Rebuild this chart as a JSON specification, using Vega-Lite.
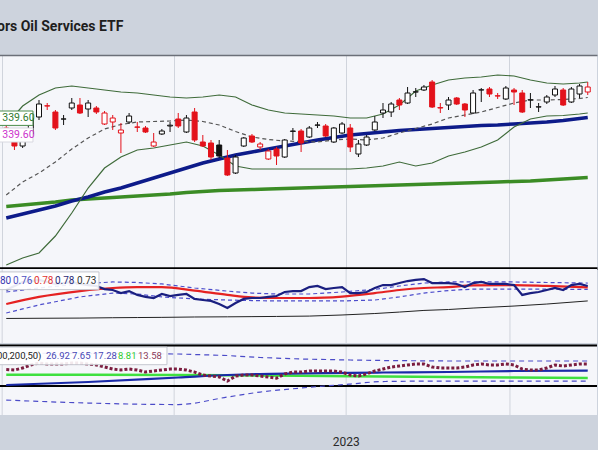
{
  "$schema": "https://vega.github.io/schema/vega-lite/v6.json",
  "background": "#cdd3dd",
  "padding": {"left": -6, "top": 20, "right": 0, "bottom": 2},
  "title": {"text": "ors Oil Services ETF", "anchor": "start", "frame": "group", "font": "Roboto", "fontSize": 14, "fontWeight": "bold", "color": "#1e1e1e", "offset": 21},
  "config": {
    "view": {"stroke": null, "fill": "#f5f6fa"},
    "axis": {"labelFont": "Roboto"},
    "text": {"font": "Roboto"}
  },
  "spacing": 0,
  "datasets": {
    "months": [{"d":"2022-11-01"},{"d":"2022-12-01"},{"d":"2023-01-03"},{"d":"2023-02-01"}],
    "ohlc": [
      {"d":"2022-11-01","o":336,"h":337.5,"l":329,"c":330,"dir":"down"},
      {"d":"2022-11-02","o":333.5,"h":335,"l":325,"c":327,"dir":"down"},
      {"d":"2022-11-03","o":327,"h":334,"l":326,"c":332.5,"dir":"up"},
      {"d":"2022-11-04","o":333,"h":342,"l":332,"c":341,"dir":"up"},
      {"d":"2022-11-07","o":341.5,"h":350,"l":340,"c":348,"dir":"up"},
      {"d":"2022-11-08","o":347.1,"h":348.5,"l":345,"c":347,"dir":"down"},
      {"d":"2022-11-09","o":344,"h":345,"l":335,"c":336,"dir":"down"},
      {"d":"2022-11-10","o":340.5,"h":342.5,"l":337.5,"c":340.5,"dir":"up"},
      {"d":"2022-11-11","o":346,"h":351,"l":345,"c":348.5,"dir":"up"},
      {"d":"2022-11-14","o":347.5,"h":351,"l":343,"c":343.5,"dir":"down"},
      {"d":"2022-11-15","o":345.5,"h":350,"l":341.5,"c":348.5,"dir":"up"},
      {"d":"2022-11-16","o":346,"h":347,"l":343,"c":344,"dir":"down"},
      {"d":"2022-11-17","o":338,"h":344.5,"l":337.5,"c":343.5,"dir":"down"},
      {"d":"2022-11-18","o":339,"h":342.5,"l":335,"c":341,"dir":"down"},
      {"d":"2022-11-21","o":333.5,"h":338.5,"l":323.5,"c":335,"dir":"down"},
      {"d":"2022-11-22","o":339,"h":343.5,"l":338,"c":342,"dir":"up"},
      {"d":"2022-11-23","o":336.5,"h":339,"l":334,"c":336.4,"dir":"down"},
      {"d":"2022-11-25","o":336,"h":337,"l":333.5,"c":334,"dir":"down"},
      {"d":"2022-11-28","o":327,"h":333.5,"l":326.5,"c":329,"dir":"down"},
      {"d":"2022-11-29","o":333,"h":335.5,"l":332.5,"c":334.5,"dir":"up"},
      {"d":"2022-11-30","o":337,"h":339,"l":334,"c":337.4,"dir":"up"},
      {"d":"2022-12-01","o":340.5,"h":343.5,"l":336,"c":337,"dir":"down"},
      {"d":"2022-12-02","o":334,"h":342.5,"l":333.5,"c":341,"dir":"up"},
      {"d":"2022-12-05","o":344,"h":346,"l":329,"c":330,"dir":"down"},
      {"d":"2022-12-06","o":329,"h":332.5,"l":326.5,"c":327,"dir":"down"},
      {"d":"2022-12-07","o":328.5,"h":330,"l":320,"c":321.5,"dir":"down"},
      {"d":"2022-12-08","o":327.5,"h":330,"l":321,"c":322,"dir":"up"},
      {"d":"2022-12-09","o":321,"h":325,"l":312,"c":312.5,"dir":"down"},
      {"d":"2022-12-12","o":313.5,"h":322.5,"l":313,"c":321.5,"dir":"up"},
      {"d":"2022-12-13","o":327,"h":331.5,"l":326.5,"c":331,"dir":"up"},
      {"d":"2022-12-14","o":332,"h":333,"l":328.5,"c":329,"dir":"down"},
      {"d":"2022-12-15","o":326.5,"h":329,"l":325,"c":328,"dir":"down"},
      {"d":"2022-12-16","o":320.5,"h":325.5,"l":320,"c":324.5,"dir":"down"},
      {"d":"2022-12-19","o":325.5,"h":326.5,"l":317.5,"c":322,"dir":"down"},
      {"d":"2022-12-20","o":321.5,"h":330.5,"l":321,"c":330,"dir":"up"},
      {"d":"2022-12-21","o":334.3,"h":336,"l":330,"c":334.5,"dir":"up"},
      {"d":"2022-12-22","o":334.5,"h":335.5,"l":324,"c":328.5,"dir":"down"},
      {"d":"2022-12-23","o":331.5,"h":337,"l":331,"c":336,"dir":"up"},
      {"d":"2022-12-27","o":337.4,"h":339,"l":336,"c":337.5,"dir":"up"},
      {"d":"2022-12-28","o":337,"h":338,"l":331.5,"c":332,"dir":"down"},
      {"d":"2022-12-29","o":329,"h":336.5,"l":328.5,"c":336,"dir":"up"},
      {"d":"2022-12-30","o":333.5,"h":339,"l":333,"c":338,"dir":"up"},
      {"d":"2023-01-03","o":336,"h":338,"l":324,"c":326.5,"dir":"down"},
      {"d":"2023-01-04","o":323,"h":330,"l":321.5,"c":328,"dir":"up"},
      {"d":"2023-01-05","o":327.5,"h":332.5,"l":327,"c":331.5,"dir":"up"},
      {"d":"2023-01-06","o":335,"h":342,"l":334.5,"c":339,"dir":"up"},
      {"d":"2023-01-09","o":343.5,"h":348.5,"l":341,"c":345,"dir":"up"},
      {"d":"2023-01-10","o":344,"h":349,"l":341.5,"c":348,"dir":"up"},
      {"d":"2023-01-11","o":350,"h":351,"l":345,"c":347.5,"dir":"down"},
      {"d":"2023-01-12","o":348.5,"h":356.5,"l":348,"c":353.5,"dir":"up"},
      {"d":"2023-01-13","o":354,"h":356,"l":351.5,"c":354.1,"dir":"up"},
      {"d":"2023-01-17","o":355,"h":357.5,"l":354.5,"c":356.5,"dir":"up"},
      {"d":"2023-01-18","o":359,"h":360,"l":346,"c":346.5,"dir":"down"},
      {"d":"2023-01-19","o":346.2,"h":348.5,"l":343.5,"c":346,"dir":"down"},
      {"d":"2023-01-20","o":347.5,"h":351.5,"l":345,"c":350,"dir":"up"},
      {"d":"2023-01-23","o":351,"h":351.5,"l":347.5,"c":348,"dir":"down"},
      {"d":"2023-01-24","o":348,"h":348.5,"l":341.5,"c":345,"dir":"down"},
      {"d":"2023-01-25","o":343.5,"h":355,"l":343,"c":353.5,"dir":"up"},
      {"d":"2023-01-26","o":355,"h":356,"l":349,"c":355.1,"dir":"up"},
      {"d":"2023-01-27","o":355.5,"h":356.5,"l":351.5,"c":353,"dir":"down"},
      {"d":"2023-01-30","o":352.1,"h":353.5,"l":350.5,"c":352,"dir":"down"},
      {"d":"2023-01-31","o":350.5,"h":357,"l":350,"c":356,"dir":"up"},
      {"d":"2023-02-01","o":355,"h":356,"l":347.5,"c":354,"dir":"down"},
      {"d":"2023-02-02","o":353.5,"h":355,"l":343.5,"c":344,"dir":"down"},
      {"d":"2023-02-03","o":350,"h":353.5,"l":346,"c":350.1,"dir":"up"},
      {"d":"2023-02-06","o":346.5,"h":348.5,"l":344,"c":346.6,"dir":"up"},
      {"d":"2023-02-07","o":349,"h":352.5,"l":348,"c":351.5,"dir":"up"},
      {"d":"2023-02-08","o":352.5,"h":357,"l":351.5,"c":355.5,"dir":"up"},
      {"d":"2023-02-09","o":355,"h":356,"l":347,"c":347.5,"dir":"down"},
      {"d":"2023-02-10","o":349,"h":356.5,"l":348.5,"c":355.5,"dir":"up"},
      {"d":"2023-02-13","o":353,"h":358,"l":351,"c":357,"dir":"up"},
      {"d":"2023-02-14","o":354,"h":359,"l":352.5,"c":356.5,"dir":"down"}
    ],
    "ma": [
      {"d":"2022-11-01","u":337.5,"mid":302.5,"lo":267.5,"s50":291,"s200":296.75},
      {"d":"2022-11-03","u":347,"mid":309,"lo":271,"s50":293,"s200":297.5},
      {"d":"2022-11-07","u":352.5,"mid":313.5,"lo":273.5,"s50":295,"s200":298.25},
      {"d":"2022-11-09","u":356,"mid":319,"lo":282,"s50":297,"s200":299},
      {"d":"2022-11-11","u":357,"mid":325.5,"lo":293.5,"s50":299.5,"s200":300},
      {"d":"2022-11-15","u":356,"mid":331,"lo":306,"s50":301.5,"s200":300.5},
      {"d":"2022-11-17","u":355,"mid":335.5,"lo":316,"s50":304,"s200":301},
      {"d":"2022-11-21","u":354,"mid":337.75,"lo":321.5,"s50":306,"s200":301.5},
      {"d":"2022-11-23","u":353.5,"mid":339,"lo":325,"s50":308.5,"s200":302},
      {"d":"2022-11-28","u":352.5,"mid":339.25,"lo":326,"s50":311,"s200":302.5},
      {"d":"2022-11-30","u":351.5,"mid":339.5,"lo":327.5,"s50":313.5,"s200":303},
      {"d":"2022-12-02","u":351,"mid":340,"lo":329,"s50":316,"s200":303.75},
      {"d":"2022-12-06","u":351.5,"mid":339.25,"lo":327,"s50":318.5,"s200":304.25},
      {"d":"2022-12-08","u":352.5,"mid":337.5,"lo":322.5,"s50":320.5,"s200":304.75},
      {"d":"2022-12-12","u":351.5,"mid":334.25,"lo":317,"s50":322.5,"s200":305},
      {"d":"2022-12-14","u":347.5,"mid":331.5,"lo":315.5,"s50":324,"s200":305.25},
      {"d":"2022-12-16","u":345,"mid":330.25,"lo":315.5,"s50":325.5,"s200":305.5},
      {"d":"2022-12-20","u":343.5,"mid":329.5,"lo":315.5,"s50":327,"s200":305.75},
      {"d":"2022-12-22","u":343,"mid":329.25,"lo":315.5,"s50":328.5,"s200":306},
      {"d":"2022-12-27","u":342.5,"mid":329,"lo":315.5,"s50":330,"s200":306.25},
      {"d":"2022-12-29","u":342,"mid":330,"lo":315.5,"s50":331.25,"s200":306.5},
      {"d":"2023-01-03","u":341,"mid":330.5,"lo":315.5,"s50":332.5,"s200":306.75},
      {"d":"2023-01-05","u":341,"mid":330,"lo":316,"s50":333.25,"s200":307},
      {"d":"2023-01-09","u":343,"mid":331,"lo":317,"s50":334,"s200":307.25},
      {"d":"2023-01-11","u":347.5,"mid":333.5,"lo":319,"s50":334.75,"s200":307.5},
      {"d":"2023-01-13","u":354.5,"mid":335.75,"lo":317,"s50":335.25,"s200":307.75},
      {"d":"2023-01-18","u":357.5,"mid":338,"lo":318.5,"s50":335.75,"s200":308},
      {"d":"2023-01-20","u":360,"mid":341,"lo":322,"s50":336.25,"s200":308.25},
      {"d":"2023-01-24","u":361,"mid":342.5,"lo":324,"s50":336.75,"s200":308.5},
      {"d":"2023-01-26","u":361.5,"mid":344,"lo":326.5,"s50":337.25,"s200":308.75},
      {"d":"2023-01-30","u":362.5,"mid":346.25,"lo":330,"s50":337.5,"s200":309},
      {"d":"2023-02-01","u":362,"mid":348.5,"lo":336.5,"s50":338,"s200":309.25},
      {"d":"2023-02-03","u":360,"mid":350,"lo":340.5,"s50":338.5,"s200":309.5},
      {"d":"2023-02-07","u":358.5,"mid":350,"lo":342,"s50":339,"s200":310},
      {"d":"2023-02-09","u":358,"mid":350.25,"lo":342.25,"s50":339.75,"s200":310.5},
      {"d":"2023-02-13","u":358.5,"mid":350.75,"lo":343,"s50":340.75,"s200":311},
      {"d":"2023-02-14","u":359,"mid":351.25,"lo":343.5,"s50":341.25,"s200":311.25}
    ],
    "p2": [
      {"d":"2022-11-01","v":0.785},{"d":"2022-11-02","v":0.807},{"d":"2022-11-03","v":0.829},{"d":"2022-11-04","v":0.834},
      {"d":"2022-11-07","v":0.840},{"d":"2022-11-08","v":0.829},{"d":"2022-11-09","v":0.818},{"d":"2022-11-10","v":0.823},
      {"d":"2022-11-11","v":0.829},{"d":"2022-11-14","v":0.818},{"d":"2022-11-15","v":0.812},{"d":"2022-11-16","v":0.807},
      {"d":"2022-11-17","v":0.790},{"d":"2022-11-18","v":0.785},{"d":"2022-11-21","v":0.768},{"d":"2022-11-22","v":0.779},
      {"d":"2022-11-23","v":0.758},{"d":"2022-11-25","v":0.747},{"d":"2022-11-28","v":0.741},{"d":"2022-11-29","v":0.763},
      {"d":"2022-11-30","v":0.752},{"d":"2022-12-01","v":0.758},{"d":"2022-12-02","v":0.763},{"d":"2022-12-05","v":0.736},
      {"d":"2022-12-06","v":0.730},{"d":"2022-12-07","v":0.725},{"d":"2022-12-08","v":0.708},{"d":"2022-12-09","v":0.686},
      {"d":"2022-12-12","v":0.714},{"d":"2022-12-13","v":0.736},{"d":"2022-12-14","v":0.741},{"d":"2022-12-15","v":0.741},
      {"d":"2022-12-16","v":0.747},{"d":"2022-12-19","v":0.752},{"d":"2022-12-20","v":0.774},{"d":"2022-12-21","v":0.779},
      {"d":"2022-12-22","v":0.779},{"d":"2022-12-23","v":0.801},{"d":"2022-12-27","v":0.807},{"d":"2022-12-28","v":0.790},
      {"d":"2022-12-29","v":0.796},{"d":"2022-12-30","v":0.801},{"d":"2023-01-03","v":0.768},{"d":"2023-01-04","v":0.768},
      {"d":"2023-01-05","v":0.774},{"d":"2023-01-06","v":0.796},{"d":"2023-01-09","v":0.812},{"d":"2023-01-10","v":0.812},
      {"d":"2023-01-11","v":0.823},{"d":"2023-01-12","v":0.834},{"d":"2023-01-13","v":0.840},{"d":"2023-01-17","v":0.845},
      {"d":"2023-01-18","v":0.823},{"d":"2023-01-19","v":0.823},{"d":"2023-01-20","v":0.823},{"d":"2023-01-23","v":0.818},
      {"d":"2023-01-24","v":0.801},{"d":"2023-01-25","v":0.823},{"d":"2023-01-26","v":0.829},{"d":"2023-01-27","v":0.818},
      {"d":"2023-01-30","v":0.818},{"d":"2023-01-31","v":0.818},{"d":"2023-02-01","v":0.812},{"d":"2023-02-02","v":0.758},
      {"d":"2023-02-03","v":0.768},{"d":"2023-02-06","v":0.774},{"d":"2023-02-07","v":0.785},{"d":"2023-02-08","v":0.796},
      {"d":"2023-02-09","v":0.785},{"d":"2023-02-10","v":0.812},{"d":"2023-02-13","v":0.818},{"d":"2023-02-14","v":0.807}
    ],
    "p2s": [
      {"d":"2022-11-01","r":0.708,"u":0.774,"lo":0.659,"k":0.629},
      {"d":"2022-11-07","r":0.747,"u":0.796,"lo":0.703,"k":0.630},
      {"d":"2022-11-14","r":0.779,"u":0.818,"lo":0.747,"k":0.631},
      {"d":"2022-11-18","r":0.796,"u":0.829,"lo":0.768,"k":0.633},
      {"d":"2022-11-23","r":0.801,"u":0.826,"lo":0.763,"k":0.634},
      {"d":"2022-11-29","r":0.801,"u":0.818,"lo":0.747,"k":0.635},
      {"d":"2022-12-05","r":0.782,"u":0.796,"lo":0.736,"k":0.637},
      {"d":"2022-12-09","r":0.758,"u":0.779,"lo":0.730,"k":0.638},
      {"d":"2022-12-14","r":0.744,"u":0.768,"lo":0.727,"k":0.639},
      {"d":"2022-12-19","r":0.741,"u":0.763,"lo":0.725,"k":0.640},
      {"d":"2022-12-23","r":0.741,"u":0.763,"lo":0.725,"k":0.642},
      {"d":"2022-12-30","r":0.749,"u":0.774,"lo":0.725,"k":0.648},
      {"d":"2023-01-06","r":0.768,"u":0.788,"lo":0.730,"k":0.656},
      {"d":"2023-01-11","r":0.785,"u":0.807,"lo":0.747,"k":0.664},
      {"d":"2023-01-17","r":0.796,"u":0.823,"lo":0.768,"k":0.673},
      {"d":"2023-01-20","r":0.801,"u":0.829,"lo":0.782,"k":0.678},
      {"d":"2023-01-25","r":0.810,"u":0.829,"lo":0.790,"k":0.686},
      {"d":"2023-02-01","r":0.812,"u":0.829,"lo":0.790,"k":0.697},
      {"d":"2023-02-07","r":0.807,"u":0.826,"lo":0.790,"k":0.708},
      {"d":"2023-02-14","r":0.799,"u":0.823,"lo":0.788,"k":0.725}
    ],
    "p3": [
      {"d":"2022-11-01","v":12.1},{"d":"2022-11-02","v":11.7},{"d":"2022-11-03","v":13.2},{"d":"2022-11-04","v":15.4},
      {"d":"2022-11-07","v":16.8},{"d":"2022-11-08","v":16.1},{"d":"2022-11-09","v":16.1},{"d":"2022-11-10","v":16.1},
      {"d":"2022-11-11","v":16.8},{"d":"2022-11-14","v":16.8},{"d":"2022-11-15","v":16.1},{"d":"2022-11-16","v":15.4},
      {"d":"2022-11-17","v":13.9},{"d":"2022-11-18","v":12.4},{"d":"2022-11-21","v":11.7},{"d":"2022-11-22","v":12.4},
      {"d":"2022-11-23","v":11.7},{"d":"2022-11-25","v":10.2},{"d":"2022-11-28","v":11.0},{"d":"2022-11-29","v":11.7},
      {"d":"2022-11-30","v":12.4},{"d":"2022-12-01","v":12.4},{"d":"2022-12-02","v":11.7},{"d":"2022-12-05","v":10.2},
      {"d":"2022-12-06","v":8.0},{"d":"2022-12-07","v":7.3},{"d":"2022-12-08","v":6.6},{"d":"2022-12-09","v":3.6},
      {"d":"2022-12-12","v":7.3},{"d":"2022-12-13","v":8.0},{"d":"2022-12-14","v":8.0},{"d":"2022-12-15","v":7.3},
      {"d":"2022-12-16","v":6.6},{"d":"2022-12-19","v":5.8},{"d":"2022-12-20","v":8.8},{"d":"2022-12-21","v":10.2},
      {"d":"2022-12-22","v":10.2},{"d":"2022-12-23","v":11.0},{"d":"2022-12-27","v":11.0},{"d":"2022-12-28","v":11.0},
      {"d":"2022-12-29","v":11.0},{"d":"2022-12-30","v":10.2},{"d":"2023-01-03","v":8.0},{"d":"2023-01-04","v":7.3},
      {"d":"2023-01-05","v":8.8},{"d":"2023-01-06","v":11.0},{"d":"2023-01-09","v":12.4},{"d":"2023-01-10","v":13.9},
      {"d":"2023-01-11","v":14.6},{"d":"2023-01-12","v":15.4},{"d":"2023-01-13","v":16.1},{"d":"2023-01-17","v":16.1},
      {"d":"2023-01-18","v":13.9},{"d":"2023-01-19","v":13.2},{"d":"2023-01-20","v":13.2},{"d":"2023-01-23","v":13.2},
      {"d":"2023-01-24","v":13.9},{"d":"2023-01-25","v":15.4},{"d":"2023-01-26","v":16.1},{"d":"2023-01-27","v":15.4},
      {"d":"2023-01-30","v":15.4},{"d":"2023-01-31","v":16.1},{"d":"2023-02-01","v":15.4},{"d":"2023-02-02","v":12.4},
      {"d":"2023-02-03","v":11.7},{"d":"2023-02-06","v":11.7},{"d":"2023-02-07","v":13.2},{"d":"2023-02-08","v":15.4},
      {"d":"2023-02-09","v":14.6},{"d":"2023-02-10","v":15.4},{"d":"2023-02-13","v":16.1},{"d":"2023-02-14","v":16.1}
    ],
    "p3s": [
      {"d":"2022-11-01","n":0.72,"g":8.26,"u":24.14,"lo":-10.26},
      {"d":"2022-11-15","n":2.92,"g":8.26,"u":23.78,"lo":-12.46},
      {"d":"2022-12-01","n":6.21,"g":8.04,"u":23.41,"lo":-13.55},
      {"d":"2022-12-09","n":8.04,"g":7.82,"u":22.31,"lo":-8.06},
      {"d":"2022-12-15","n":8.77,"g":7.67,"u":20.85,"lo":-4.40},
      {"d":"2022-12-22","n":9.14,"g":7.45,"u":19.75,"lo":-1.48},
      {"d":"2023-01-03","n":9.65,"g":7.16,"u":19.02,"lo":1.45},
      {"d":"2023-01-09","n":9.87,"g":6.94,"u":18.65,"lo":3.28},
      {"d":"2023-01-20","n":10.24,"g":6.58,"u":18.29,"lo":3.65},
      {"d":"2023-02-01","n":10.97,"g":6.21,"u":18.29,"lo":3.65},
      {"d":"2023-02-14","n":11.33,"g":5.84,"u":18.29,"lo":3.65}
    ]
  },
  "vconcat": [
    {
      "width": 600, "height": 213,
      "layer": [
        {"data": {"name": "ma"}, "mark": {"type": "line", "color": "#3b8c25", "strokeWidth": 3.5},
         "encoding": {
           "x": {"field": "d", "type": "ordinal", "scale": {"type": "band", "paddingInner": 0, "paddingOuter": 0.63},
                 "axis": {"orient": "bottom", "values": ["2022-11-01","2022-12-01","2023-01-03","2023-02-01"], "bandPosition": 0, "labels": false, "ticks": false, "title": null, "domainColor": "#000000", "domainWidth": 2.5, "grid": true, "gridColor": "#d0d4dc", "gridWidth": 1}},
           "y": {"field": "s200", "type": "quantitative", "scale": {"domain": [266, 372.5], "nice": false, "zero": false},
                 "axis": {"values": [271.5, 295, 316, 335.5, 369], "labels": false, "ticks": false, "domain": false, "title": null, "grid": true, "gridColor": "#d6d9e0"}}
         }},
        {"data": {"name": "ma"}, "mark": {"type": "line", "color": "#0d1b8a", "strokeWidth": 3.5},
         "encoding": {
           "x": {"field": "d", "type": "ordinal", "axis": {"orient": "top", "labels": false, "ticks": false, "grid": false, "title": null, "domainColor": "#6b6f78", "domainWidth": 1.5}},
           "y": {"field": "s50", "type": "quantitative", "axis": null}
         }},
        {"data": {"name": "ma"}, "mark": {"type": "line", "color": "#3f6b3a", "strokeWidth": 1.2},
         "encoding": {"x": {"field": "d", "type": "ordinal", "axis": null}, "y": {"field": "u", "type": "quantitative", "axis": null}}},
        {"data": {"name": "ma"}, "mark": {"type": "line", "color": "#3f6b3a", "strokeWidth": 1.2},
         "encoding": {"x": {"field": "d", "type": "ordinal", "axis": null}, "y": {"field": "lo", "type": "quantitative", "axis": null}}},
        {"data": {"name": "ma"}, "mark": {"type": "line", "color": "#555555", "strokeWidth": 1.2, "strokeDash": [4, 3]},
         "encoding": {"x": {"field": "d", "type": "ordinal", "axis": null}, "y": {"field": "mid", "type": "quantitative", "axis": null}}},
        {"data": {"name": "ohlc"}, "mark": {"type": "rule", "strokeWidth": 1},
         "encoding": {
           "x": {"field": "d", "type": "ordinal", "axis": null},
           "y": {"field": "l", "type": "quantitative", "axis": null},
           "y2": {"field": "h"},
           "stroke": {"field": "dir", "type": "nominal", "scale": {"domain": ["up", "down"], "range": ["#111111", "#e3121b"]}, "legend": null}
         }},
        {"data": {"name": "ohlc"}, "mark": {"type": "bar", "width": 5, "strokeWidth": 1},
         "encoding": {
           "x": {"field": "d", "type": "ordinal", "axis": null},
           "y": {"field": "o", "type": "quantitative", "axis": null},
           "y2": {"field": "c"},
           "stroke": {"field": "dir", "type": "nominal", "scale": {"domain": ["up", "down"], "range": ["#111111", "#e3121b"]}, "legend": null},
           "fill": {"condition": {"test": "datum.c > datum.o", "value": "#ffffff"}, "field": "dir", "type": "nominal", "scale": {"domain": ["up", "down"], "range": ["#111111", "#e3121b"]}, "legend": null}
         }},
        {"data": {"values": [{"d": "2022-11-01", "top": 344.5, "bottom": 337.3}]},
         "mark": {"type": "bar", "width": 36, "xOffset": 8.7, "fill": "#ffffff", "stroke": "#4c8c4c", "strokeWidth": 1},
         "encoding": {"x": {"field": "d", "type": "ordinal", "axis": null}, "y": {"field": "top", "type": "quantitative", "axis": null}, "y2": {"field": "bottom"}}},
        {"data": {"values": [{"d": "2022-11-01", "top": 336, "bottom": 329}]},
         "mark": {"type": "bar", "width": 36, "xOffset": 8.7, "fill": "#ffffff", "stroke": "#d8d8e0", "strokeWidth": 1},
         "encoding": {"x": {"field": "d", "type": "ordinal", "axis": null}, "y": {"field": "top", "type": "quantitative", "axis": null}, "y2": {"field": "bottom"}}},
        {"data": {"values": [{"d": "2022-11-01", "v": 340.9, "t": "339.60"}]},
         "mark": {"type": "text", "align": "left", "dx": -4, "fontSize": 10.5, "color": "#2f7a2f"},
         "encoding": {"x": {"field": "d", "type": "ordinal", "axis": null}, "y": {"field": "v", "type": "quantitative", "axis": null}, "text": {"field": "t"}}},
        {"data": {"values": [{"d": "2022-11-01", "v": 332.5, "t": "339.60"}]},
         "mark": {"type": "text", "align": "left", "dx": -4, "fontSize": 10.5, "color": "#cc33cc"},
         "encoding": {"x": {"field": "d", "type": "ordinal", "axis": null}, "y": {"field": "v", "type": "quantitative", "axis": null}, "text": {"field": "t"}}}
      ]
    },
    {
      "width": 600, "height": 74,
      "layer": [
        {"data": {"name": "p2"}, "mark": {"type": "line", "color": "#1a1f80", "strokeWidth": 2.2, "opacity": 0},
         "encoding": {
           "x": {"field": "d", "type": "ordinal", "scale": {"type": "band", "paddingInner": 0, "paddingOuter": 0.63},
                 "axis": {"orient": "bottom", "labels": false, "ticks": false, "grid": false, "title": null, "domainColor": "#000000", "domainWidth": 2.5}},
           "y": {"field": "v", "type": "quantitative", "scale": {"domain": [0.4945, 0.9], "nice": false, "zero": false}, "axis": null}
         }},
        {"data": {"name": "months"}, "mark": {"type": "rule", "color": "#d0d4dc", "strokeWidth": 1},
         "encoding": {"x": {"field": "d", "type": "ordinal", "bandPosition": 0, "axis": null}}},
        {"data": {"name": "p2s"}, "mark": {"type": "line", "color": "#222222", "strokeWidth": 1},
         "encoding": {"x": {"field": "d", "type": "ordinal", "axis": null}, "y": {"field": "k", "type": "quantitative", "axis": null}}},
        {"data": {"name": "p2s"}, "mark": {"type": "line", "color": "#4d4dcc", "strokeWidth": 1.2, "strokeDash": [4, 3]},
         "encoding": {"x": {"field": "d", "type": "ordinal", "axis": null}, "y": {"field": "u", "type": "quantitative", "axis": null}}},
        {"data": {"name": "p2s"}, "mark": {"type": "line", "color": "#4d4dcc", "strokeWidth": 1.2, "strokeDash": [4, 3]},
         "encoding": {"x": {"field": "d", "type": "ordinal", "axis": null}, "y": {"field": "lo", "type": "quantitative", "axis": null}}},
        {"data": {"name": "p2s"}, "mark": {"type": "line", "color": "#e52222", "strokeWidth": 2.2, "interpolate": "monotone"},
         "encoding": {"x": {"field": "d", "type": "ordinal", "axis": null}, "y": {"field": "r", "type": "quantitative", "axis": null}}},
        {"data": {"name": "p2"}, "mark": {"type": "line", "color": "#1a1f80", "strokeWidth": 2.2},
         "encoding": {"x": {"field": "d", "type": "ordinal", "axis": null}, "y": {"field": "v", "type": "quantitative", "axis": null}}},
        {"data": {"values": [{"d": "2022-11-01", "top": 0.884, "bottom": 0.787}]},
         "mark": {"type": "bar", "width": 104, "xOffset": 40.7, "fill": "#ffffff", "fillOpacity": 0.9, "stroke": "#c4c7cf", "strokeWidth": 1},
         "encoding": {"x": {"field": "d", "type": "ordinal", "axis": null}, "y": {"field": "top", "type": "quantitative", "axis": null}, "y2": {"field": "bottom"}}},
        {"data": {"values": [{"d": "2022-11-01", "v": 0.834, "t": ".80"}]},
         "mark": {"type": "text", "align": "left", "dx": -9, "fontSize": 10, "color": "#3535b0"},
         "encoding": {"x": {"field": "d", "type": "ordinal", "axis": null}, "y": {"field": "v", "type": "quantitative", "axis": null}, "text": {"field": "t"}}},
        {"data": {"values": [{"d": "2022-11-01", "v": 0.834, "t": "0.76"}]},
         "mark": {"type": "text", "align": "left", "dx": 6.7, "fontSize": 10, "color": "#5050c0"},
         "encoding": {"x": {"field": "d", "type": "ordinal", "axis": null}, "y": {"field": "v", "type": "quantitative", "axis": null}, "text": {"field": "t"}}},
        {"data": {"values": [{"d": "2022-11-01", "v": 0.834, "t": "0.78"}]},
         "mark": {"type": "text", "align": "left", "dx": 27.7, "fontSize": 10, "color": "#e23333"},
         "encoding": {"x": {"field": "d", "type": "ordinal", "axis": null}, "y": {"field": "v", "type": "quantitative", "axis": null}, "text": {"field": "t"}}},
        {"data": {"values": [{"d": "2022-11-01", "v": 0.834, "t": "0.78"}]},
         "mark": {"type": "text", "align": "left", "dx": 48.7, "fontSize": 10, "color": "#2a2a78"},
         "encoding": {"x": {"field": "d", "type": "ordinal", "axis": null}, "y": {"field": "v", "type": "quantitative", "axis": null}, "text": {"field": "t"}}},
        {"data": {"values": [{"d": "2022-11-01", "v": 0.834, "t": "0.73"}]},
         "mark": {"type": "text", "align": "left", "dx": 70.7, "fontSize": 10, "color": "#333333"},
         "encoding": {"x": {"field": "d", "type": "ordinal", "axis": null}, "y": {"field": "v", "type": "quantitative", "axis": null}, "text": {"field": "t"}}}
      ]
    },
    {
      "width": 600, "height": 70,
      "layer": [
        {"data": {"name": "p3"}, "mark": {"type": "line", "color": "#7b1d3f", "strokeWidth": 3, "opacity": 0},
         "encoding": {
           "x": {"field": "d", "type": "ordinal", "scale": {"type": "band", "paddingInner": 0, "paddingOuter": 0.63}, "axis": null},
           "y": {"field": "v", "type": "quantitative", "scale": {"domain": [-21.2, 30], "nice": false, "zero": false}, "axis": null}
         }},
        {"data": {"name": "months"}, "mark": {"type": "rule", "color": "#d0d4dc", "strokeWidth": 1},
         "encoding": {"x": {"field": "d", "type": "ordinal", "bandPosition": 0, "axis": null}}},
        {"data": {"values": [{"v": 0}, {"v": 29.6}]}, "mark": {"type": "rule", "color": "#000000", "strokeWidth": 2},
         "encoding": {"y": {"field": "v", "type": "quantitative", "axis": null}}},
        {"data": {"name": "p3s"}, "mark": {"type": "line", "color": "#4b4bc8", "strokeWidth": 1.2, "strokeDash": [5, 4]},
         "encoding": {"x": {"field": "d", "type": "ordinal", "axis": null}, "y": {"field": "u", "type": "quantitative", "axis": null}}},
        {"data": {"name": "p3s"}, "mark": {"type": "line", "color": "#4b4bc8", "strokeWidth": 1.2, "strokeDash": [5, 4], "interpolate": "monotone"},
         "encoding": {"x": {"field": "d", "type": "ordinal", "axis": null}, "y": {"field": "lo", "type": "quantitative", "axis": null}}},
        {"data": {"name": "p3s"}, "mark": {"type": "line", "color": "#3fe03f", "strokeWidth": 2.5},
         "encoding": {"x": {"field": "d", "type": "ordinal", "axis": null}, "y": {"field": "g", "type": "quantitative", "axis": null}}},
        {"data": {"name": "p3s"}, "mark": {"type": "line", "color": "#1a2aa8", "strokeWidth": 2.2, "interpolate": "monotone"},
         "encoding": {"x": {"field": "d", "type": "ordinal", "axis": null}, "y": {"field": "n", "type": "quantitative", "axis": null}}},
        {"data": {"name": "p3"}, "mark": {"type": "line", "color": "#7b1d3f", "strokeWidth": 3, "strokeDash": [3, 2]},
         "encoding": {"x": {"field": "d", "type": "ordinal", "axis": null}, "y": {"field": "v", "type": "quantitative", "axis": null}}},
        {"data": {"values": [{"d": "2022-11-01", "top": 28.5, "bottom": 15.6}]},
         "mark": {"type": "bar", "width": 172, "xOffset": 74.7, "fill": "#ffffff", "fillOpacity": 0.9, "stroke": "#c4c7cf", "strokeWidth": 1},
         "encoding": {"x": {"field": "d", "type": "ordinal", "axis": null}, "y": {"field": "top", "type": "quantitative", "axis": null}, "y2": {"field": "bottom"}}},
        {"data": {"values": [{"d": "2022-11-01", "v": 21.95, "t": "00,200,50)"}]},
         "mark": {"type": "text", "align": "left", "dx": -9.3, "fontSize": 9.5, "color": "#222222"},
         "encoding": {"x": {"field": "d", "type": "ordinal", "axis": null}, "y": {"field": "v", "type": "quantitative", "axis": null}, "text": {"field": "t"}}},
        {"data": {"values": [{"d": "2022-11-01", "v": 21.95, "t": "26.92"}]},
         "mark": {"type": "text", "align": "left", "dx": 39.7, "fontSize": 9.5, "color": "#4747b5"},
         "encoding": {"x": {"field": "d", "type": "ordinal", "axis": null}, "y": {"field": "v", "type": "quantitative", "axis": null}, "text": {"field": "t"}}},
        {"data": {"values": [{"d": "2022-11-01", "v": 21.95, "t": "7.65"}]},
         "mark": {"type": "text", "align": "left", "dx": 65.7, "fontSize": 9.5, "color": "#4747b5"},
         "encoding": {"x": {"field": "d", "type": "ordinal", "axis": null}, "y": {"field": "v", "type": "quantitative", "axis": null}, "text": {"field": "t"}}},
        {"data": {"values": [{"d": "2022-11-01", "v": 21.95, "t": "17.28"}]},
         "mark": {"type": "text", "align": "left", "dx": 86.7, "fontSize": 9.5, "color": "#4747b5"},
         "encoding": {"x": {"field": "d", "type": "ordinal", "axis": null}, "y": {"field": "v", "type": "quantitative", "axis": null}, "text": {"field": "t"}}},
        {"data": {"values": [{"d": "2022-11-01", "v": 21.95, "t": "8.81"}]},
         "mark": {"type": "text", "align": "left", "dx": 111.7, "fontSize": 9.5, "color": "#2ecc2e"},
         "encoding": {"x": {"field": "d", "type": "ordinal", "axis": null}, "y": {"field": "v", "type": "quantitative", "axis": null}, "text": {"field": "t"}}},
        {"data": {"values": [{"d": "2022-11-01", "v": 21.95, "t": "13.58"}]},
         "mark": {"type": "text", "align": "left", "dx": 131.7, "fontSize": 9.5, "color": "#8b3a5a"},
         "encoding": {"x": {"field": "d", "type": "ordinal", "axis": null}, "y": {"field": "v", "type": "quantitative", "axis": null}, "text": {"field": "t"}}}
      ]
    },
    {
      "width": 600, "height": 1,
      "view": {"fill": null},
      "layer": [
        {"data": {"name": "p3"}, "mark": {"type": "rule", "opacity": 0},
         "encoding": {
           "x": {"field": "d", "type": "ordinal", "scale": {"type": "band", "paddingInner": 0, "paddingOuter": 0.63},
                 "axis": {"orient": "bottom", "values": ["2022-11-01","2022-12-01","2023-01-03","2023-02-01"], "bandPosition": 0,
                          "labelExpr": "datum.value == '2022-11-01' ? 'Nov' : datum.value == '2022-12-01' ? 'Dec' : datum.value == '2023-01-03' ? '' : 'Feb'",
                          "labelAngle": 0, "labelFontSize": 12, "labelColor": "#2a2a2a", "tickSize": 5, "tickColor": "#8a8f99", "domainColor": "#a9aeb7", "grid": false, "title": null}}
         }},
        {"data": {"values": [{"d": "2023-01-03", "v": -25, "t": "2023"}]},
         "mark": {"type": "text", "align": "center", "baseline": "middle", "dx": -4.1, "fontSize": 12, "color": "#2a2a2a"},
         "encoding": {
           "x": {"field": "d", "type": "ordinal", "axis": null},
           "y": {"field": "v", "type": "quantitative", "scale": {"domain": [0, 1], "nice": false, "zero": false}, "axis": null},
           "text": {"field": "t"}
         }}
      ]
    }
  ]
}
